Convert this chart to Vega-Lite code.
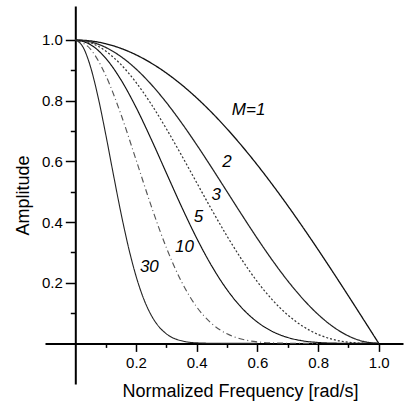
{
  "$schema": "https://vega.github.io/schema/vega-lite/v6.json",
  "autosize": {"type": "none"},
  "padding": {"left": 45, "top": 6, "right": 3, "bottom": 22},
  "width": 358,
  "height": 378,
  "background": "white",
  "config": {"view": {"stroke": null}, "font": "Liberation Sans"},
  "datasets": {
    "curves": [
      {"M": "1", "x": 0, "y": 1}, {"M": "1", "x": 0.05, "y": 0.99692}, {"M": "1", "x": 0.1, "y": 0.98769}, {"M": "1", "x": 0.15, "y": 0.97237}, {"M": "1", "x": 0.2, "y": 0.95106}, {"M": "1", "x": 0.25, "y": 0.92388}, {"M": "1", "x": 0.3, "y": 0.89101}, {"M": "1", "x": 0.35, "y": 0.85264}, {"M": "1", "x": 0.4, "y": 0.80902}, {"M": "1", "x": 0.45, "y": 0.76041}, {"M": "1", "x": 0.5, "y": 0.70711}, {"M": "1", "x": 0.55, "y": 0.64945}, {"M": "1", "x": 0.6, "y": 0.58779}, {"M": "1", "x": 0.65, "y": 0.5225}, {"M": "1", "x": 0.7, "y": 0.45399}, {"M": "1", "x": 0.75, "y": 0.38268}, {"M": "1", "x": 0.8, "y": 0.30902}, {"M": "1", "x": 0.85, "y": 0.23345}, {"M": "1", "x": 0.9, "y": 0.15643}, {"M": "1", "x": 0.95, "y": 0.07846}, {"M": "1", "x": 1, "y": 0},
      {"M": "2", "x": 0, "y": 1}, {"M": "2", "x": 0.05, "y": 0.99384}, {"M": "2", "x": 0.1, "y": 0.97553}, {"M": "2", "x": 0.15, "y": 0.9455}, {"M": "2", "x": 0.2, "y": 0.90451}, {"M": "2", "x": 0.25, "y": 0.85355}, {"M": "2", "x": 0.3, "y": 0.79389}, {"M": "2", "x": 0.35, "y": 0.727}, {"M": "2", "x": 0.4, "y": 0.65451}, {"M": "2", "x": 0.45, "y": 0.57822}, {"M": "2", "x": 0.5, "y": 0.5}, {"M": "2", "x": 0.55, "y": 0.42178}, {"M": "2", "x": 0.6, "y": 0.34549}, {"M": "2", "x": 0.65, "y": 0.273}, {"M": "2", "x": 0.7, "y": 0.20611}, {"M": "2", "x": 0.75, "y": 0.14645}, {"M": "2", "x": 0.8, "y": 0.09549}, {"M": "2", "x": 0.85, "y": 0.0545}, {"M": "2", "x": 0.9, "y": 0.02447}, {"M": "2", "x": 0.95, "y": 0.00616}, {"M": "2", "x": 1, "y": 0},
      {"M": "3", "x": 0, "y": 1}, {"M": "3", "x": 0.05, "y": 0.99078}, {"M": "3", "x": 0.1, "y": 0.96352}, {"M": "3", "x": 0.15, "y": 0.91938}, {"M": "3", "x": 0.2, "y": 0.86024}, {"M": "3", "x": 0.25, "y": 0.78858}, {"M": "3", "x": 0.3, "y": 0.70736}, {"M": "3", "x": 0.35, "y": 0.61987}, {"M": "3", "x": 0.4, "y": 0.52951}, {"M": "3", "x": 0.45, "y": 0.43968}, {"M": "3", "x": 0.5, "y": 0.35355}, {"M": "3", "x": 0.55, "y": 0.27392}, {"M": "3", "x": 0.6, "y": 0.20308}, {"M": "3", "x": 0.65, "y": 0.14264}, {"M": "3", "x": 0.7, "y": 0.09357}, {"M": "3", "x": 0.75, "y": 0.05604}, {"M": "3", "x": 0.8, "y": 0.02951}, {"M": "3", "x": 0.85, "y": 0.01272}, {"M": "3", "x": 0.9, "y": 0.00383}, {"M": "3", "x": 0.95, "y": 0.00048}, {"M": "3", "x": 1, "y": 0},
      {"M": "5", "x": 0, "y": 1}, {"M": "5", "x": 0.05, "y": 0.98468}, {"M": "5", "x": 0.1, "y": 0.93994}, {"M": "5", "x": 0.15, "y": 0.86927}, {"M": "5", "x": 0.2, "y": 0.7781}, {"M": "5", "x": 0.25, "y": 0.67309}, {"M": "5", "x": 0.3, "y": 0.56157}, {"M": "5", "x": 0.35, "y": 0.45065}, {"M": "5", "x": 0.4, "y": 0.34657}, {"M": "5", "x": 0.45, "y": 0.25423}, {"M": "5", "x": 0.5, "y": 0.17678}, {"M": "5", "x": 0.55, "y": 0.11553}, {"M": "5", "x": 0.6, "y": 0.07016}, {"M": "5", "x": 0.65, "y": 0.03894}, {"M": "5", "x": 0.7, "y": 0.01929}, {"M": "5", "x": 0.75, "y": 0.00821}, {"M": "5", "x": 0.8, "y": 0.00282}, {"M": "5", "x": 0.85, "y": 0.00069}, {"M": "5", "x": 0.9, "y": 0.00009}, {"M": "5", "x": 0.95, "y": 0}, {"M": "5", "x": 1, "y": 0},
      {"M": "10", "x": 0, "y": 1}, {"M": "10", "x": 0.05, "y": 0.96959}, {"M": "10", "x": 0.1, "y": 0.88349}, {"M": "10", "x": 0.15, "y": 0.75563}, {"M": "10", "x": 0.2, "y": 0.60544}, {"M": "10", "x": 0.25, "y": 0.45305}, {"M": "10", "x": 0.3, "y": 0.31536}, {"M": "10", "x": 0.35, "y": 0.20309}, {"M": "10", "x": 0.4, "y": 0.12011}, {"M": "10", "x": 0.45, "y": 0.06463}, {"M": "10", "x": 0.5, "y": 0.03125}, {"M": "10", "x": 0.55, "y": 0.01335}, {"M": "10", "x": 0.6, "y": 0.00492}, {"M": "10", "x": 0.65, "y": 0.00152}, {"M": "10", "x": 0.7, "y": 0.00037}, {"M": "10", "x": 0.75, "y": 0.00007}, {"M": "10", "x": 0.8, "y": 0},
      {"M": "30", "x": 0, "y": 1}, {"M": "30", "x": 0.025, "y": 0.97713}, {"M": "30", "x": 0.05, "y": 0.91154}, {"M": "30", "x": 0.075, "y": 0.81162}, {"M": "30", "x": 0.1, "y": 0.68958}, {"M": "30", "x": 0.125, "y": 0.55877}, {"M": "30", "x": 0.15, "y": 0.43146}, {"M": "30", "x": 0.175, "y": 0.31725}, {"M": "30", "x": 0.2, "y": 0.22192}, {"M": "30", "x": 0.225, "y": 0.14747}, {"M": "30", "x": 0.25, "y": 0.09299}, {"M": "30", "x": 0.275, "y": 0.05554}, {"M": "30", "x": 0.3, "y": 0.03137}, {"M": "30", "x": 0.35, "y": 0.00837}, {"M": "30", "x": 0.4, "y": 0.00173}, {"M": "30", "x": 0.45, "y": 0.00027}, {"M": "30", "x": 0.5, "y": 0.00003}, {"M": "30", "x": 0.6, "y": 0}
    ],
    "labels": [
      {"label": "M=1", "x": 0.571, "y": 0.769},
      {"label": "2", "x": 0.5, "y": 0.598},
      {"label": "3", "x": 0.464, "y": 0.488},
      {"label": "5", "x": 0.406, "y": 0.417},
      {"label": "10", "x": 0.36, "y": 0.318},
      {"label": "30", "x": 0.244, "y": 0.252}
    ]
  },
  "resolve": {"axis": {"x": "independent", "y": "independent"}},
  "layer": [
    {
      "data": {"name": "curves"},
      "mark": {"type": "line", "interpolate": "monotone"},
      "encoding": {
        "x": {
          "field": "x", "type": "quantitative",
          "scale": {"domain": [-0.1, 1.08], "nice": false, "zero": false},
          "axis": {
            "orient": "bottom",
            "values": [0.2, 0.4, 0.6, 0.8, 1.0],
            "format": ".1f",
            "offset": -40.6,
            "grid": false,
            "domainWidth": 2, "domainColor": "black",
            "tickColor": "black", "tickWidth": 1.5, "tickSize": 8,
            "labelFontSize": 15, "labelColor": "black", "labelPadding": 4,
            "labelFont": "Liberation Sans",
            "title": "Normalized Frequency [rad/s]",
            "titleFontSize": 18, "titleFontWeight": "normal", "titleColor": "black",
            "titleFont": "Liberation Sans",
            "titleX": 195, "titlePadding": 12
          }
        },
        "y": {
          "field": "y", "type": "quantitative",
          "scale": {"domain": [-0.134, 1.112], "nice": false, "zero": false},
          "axis": {
            "orient": "left",
            "values": [0.2, 0.4, 0.6, 0.8, 1.0],
            "format": ".1f",
            "offset": -30.3,
            "grid": false,
            "domainWidth": 2, "domainColor": "black",
            "tickColor": "black", "tickWidth": 1.5, "tickSize": 10,
            "labelFontSize": 15, "labelColor": "black", "labelPadding": 3,
            "labelFont": "Liberation Sans",
            "title": "Amplitude",
            "titleFontSize": 18, "titleFontWeight": "normal", "titleColor": "black",
            "titleFont": "Liberation Sans",
            "titlePadding": 9
          }
        },
        "color": {
          "field": "M", "type": "nominal", "legend": null,
          "scale": {"domain": ["1", "2", "3", "5", "10", "30"], "range": ["#111111", "#222222", "#333333", "#111111", "#555555", "#222222"]}
        },
        "strokeDash": {
          "field": "M", "type": "nominal", "legend": null,
          "scale": {"domain": ["1", "2", "3", "5", "10", "30"], "range": [[1, 0], [1, 0], [2, 2], [1, 0], [6, 3, 1, 3], [1, 0]]}
        },
        "strokeWidth": {
          "field": "M", "type": "nominal", "legend": null,
          "scale": {"domain": ["1", "2", "3", "5", "10", "30"], "range": [1.3, 1.1, 1.1, 1.5, 1, 1.1]}
        }
      }
    },
    {
      "data": {"name": "labels"},
      "mark": {"type": "text", "fontStyle": "italic", "fontSize": 17, "font": "Liberation Sans", "color": "black"},
      "encoding": {
        "x": {
          "field": "x", "type": "quantitative",
          "axis": {
            "orient": "bottom",
            "values": [0.1, 0.3, 0.5, 0.7, 0.9],
            "offset": -40.6,
            "grid": false, "domain": false, "labels": false, "title": null,
            "tickColor": "black", "tickWidth": 1.5, "tickSize": 4
          }
        },
        "y": {
          "field": "y", "type": "quantitative",
          "axis": {
            "orient": "left",
            "values": [0.1, 0.3, 0.5, 0.7, 0.9],
            "offset": -30.3,
            "grid": false, "domain": false, "labels": false, "title": null,
            "tickColor": "black", "tickWidth": 1.5, "tickSize": 5
          }
        },
        "text": {"field": "label", "type": "nominal"}
      }
    }
  ]
}
